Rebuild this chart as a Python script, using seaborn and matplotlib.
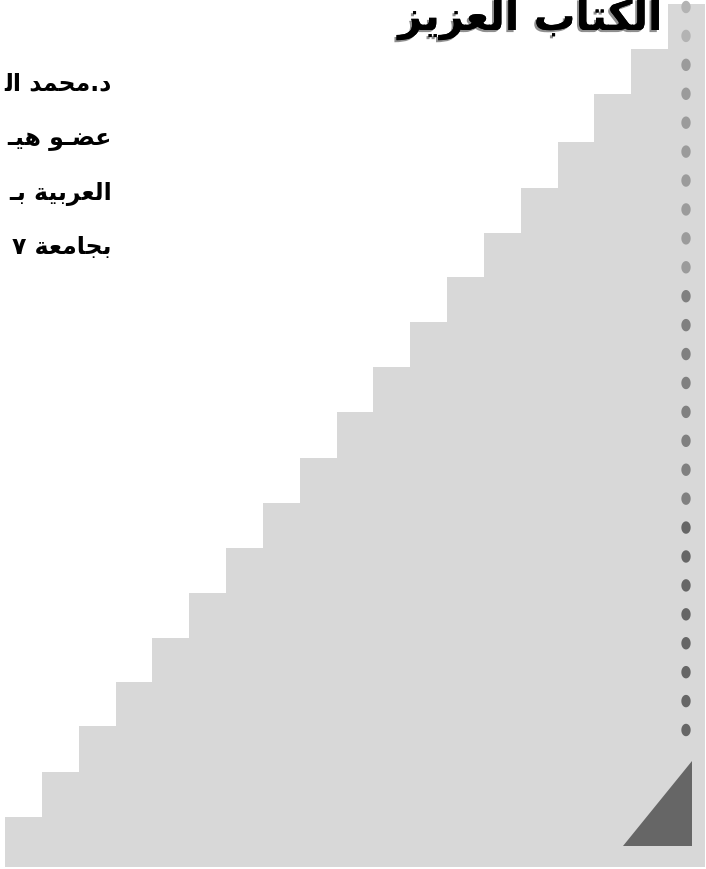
import numpy as np
import pandas as pd
import matplotlib
matplotlib.use("Agg")
import matplotlib.pyplot as plt
import matplotlib.patheffects as pe
from matplotlib.patches import Polygon
from matplotlib.path import Path
import seaborn as sns

W, H = 706, 870

# staircase: height (px) of each step above the base line
steps = list(range(1, 20))
step_heights = [50, 95, 141, 185, 229, 274, 319, 364, 409, 455,
                500, 545, 590, 634, 679, 725, 773, 818, 863]

# binder holes down the right edge, top to bottom
hole_rows = list(range(26))
hole_shade = ["light"] * 2 + ["mid"] * 8 + ["dark"] * 8 + ["darkest"] * 8
hole_colors = {"light": "#b3b3b3", "mid": "#9b9b9b", "dark": "#808080", "darkest": "#666666"}

# arabic text, already shaped (presentation forms) and in visual order
# "الكتاب العزيز"
title = "\uFEB0\uFEF3\uFEB0\uFECC\uFEDF\uFE8D \uFE8F\uFE8E\uFE98\uFEDC\uFEDF\uFE8D"
# "د.محمد ال" / "عضـو هيـ" / "العربية بـ" / "بجامعة ٧"
side_lines = [
    "\uFEDF\uFE8D \uFEAA\uFEE4\uFEA4\uFEE3.\uFEA9",
    "\u0640\uFEF4\uFEEB \uFEEE\u0640\uFEC0\uFECB",
    "\u0640\uFE91 \uFE94\uFEF4\uFE91\uFEAE\uFECC\uFEDF\uFE8D",
    "\u0667 \uFE94\uFECC\uFEE3\uFE8E\uFEA0\uFE91",
]
side_baselines = [90, 145, 200, 254]

fig = plt.figure(figsize=(W / 100, H / 100), dpi=100)

# staircase bars
ax = fig.add_axes([0, 0, 1, 1])
df = pd.DataFrame({"step": steps, "h": step_heights})
sns.barplot(data=df, x="step", y="h", color="#d8d8d8", saturation=1,
            width=1, linewidth=0, ax=ax)
bw = (705 - 5) / len(steps)
ax.set_xlim(-0.5 - 5 / bw, len(steps) - 0.5 + 1 / bw)
ax.set_ylim(-2, 868)
ax.axis("off")

# binder holes (slightly tall ellipses)
t = np.linspace(0, 2 * np.pi, 60)
hole = Path(np.column_stack([0.75 * np.cos(t), np.sin(t)]))
ax3 = fig.add_axes([0, 0, 1, 1])
ax3.patch.set_alpha(0)
sns.scatterplot(x=[0] * len(hole_rows), y=hole_rows, hue=hole_shade,
                palette=hole_colors, marker=hole, s=80, linewidth=0,
                legend=False, ax=ax3)
gap = 28.92
ax3.set_xlim(-686, W - 686)
ax3.set_ylim((H - 8) / gap, -8 / gap)
ax3.axis("off")

# corner triangle
ax2 = fig.add_axes([0, 0, 1, 1])
ax2.patch.set_alpha(0)
ax2.set_xlim(0, W)
ax2.set_ylim(H, 0)
ax2.add_patch(Polygon([(623, 847), (692, 762), (692, 847)], closed=True,
                      facecolor="#666666", edgecolor="none"))
ax2.axis("off")

shadow = [pe.withSimplePatchShadow(offset=(-1.5, -1.5), shadow_rgbFace="0.45", alpha=0.8),
          pe.Normal()]
fig.text(662 / W, 1 - 31 / H, title, ha="right", va="baseline",
         fontsize=30, fontweight="bold", family="DejaVu Sans",
         color="black", path_effects=shadow)

for line, yb in zip(side_lines, side_baselines):
    fig.text(112 / W, 1 - yb / H, line, ha="right", va="baseline",
             fontsize=17, fontweight="bold", family="DejaVu Sans", color="black")

fig.savefig("out.png", dpi=100)
